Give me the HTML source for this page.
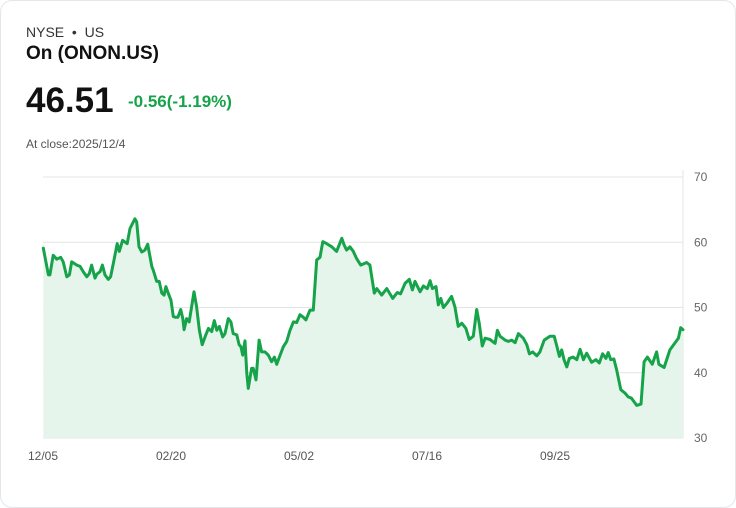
<!DOCTYPE html>
<html><head><meta charset="utf-8"><style>
body{margin:0;background:#fff;font-family:"Liberation Sans",sans-serif}
.card{position:absolute;left:0;top:0;width:734px;height:506px;border:1px solid #e3e6ea;border-radius:12px;background:#fff}
.t{position:absolute;white-space:nowrap}
</style></head><body>
<div class="card">
<div class="t" style="left:25px;top:23px;font-size:14px;color:#333">NYSE &nbsp;•&nbsp; US</div>
<div class="t" style="left:25px;top:42px;font-size:19px;font-weight:bold;color:#111">On (ONON.US)</div>
<div class="t" style="left:25px;top:80px;font-size:35px;font-weight:bold;color:#111">46.51</div>
<div class="t" style="left:127px;top:91px;font-size:17px;font-weight:bold;color:#16a34a">-0.56(-1.19%)</div>
<div class="t" style="left:25px;top:136px;font-size:12px;color:#555">At close:2025/12/4</div>
<svg id="chart" width="736" height="508" style="position:absolute;left:-1px;top:-1px"></svg>
</div>
<script>
const sessions=[0.1,2.1,2.7,4.0,5.4,6.9,7.9,9.3,10.3,11.2,13.2,14.5,15.7,17.1,18.1,19.0,20.3,21.0,22.3,23.2,24.2,25.5,26.4,27.5,29.0,29.8,31.1,32.9,34.0,35.9,36.6,37.5,38.6,39.8,40.9,42.5,43.1,44.4,45.4,46.4,47.3,48.0,48.9,50.0,50.9,51.8,52.7,53.8,54.6,55.1,56.1,57.1,59.0,60.0,61.1,62.2,63.6,64.6,65.9,66.9,67.9,68.9,70.2,71.1,72.4,73.4,74.3,75.7,76.6,77.3,78.0,78.9,79.6,80.2,81.5,82.1,83.2,84.4,85.4,86.7,88.0,89.3,90.4,91.3,92.6,93.9,95.2,96.5,97.8,99.1,100.4,101.7,102.7,104.3,105.6,106.9,108.2,109.3,110.8,112.8,114.7,116.7,117.6,118.6,119.9,121.2,122.5,124.1,126.4,
127.7,129.4,130.4,132.3,134.3,136.6,138.4,139.7,141.4,143.1,144.3,145.3,147.3,148.6,150.1,151.2,152.1,153.5,154.4,155.4,156.4,157.9,159.6,160.9,162.2,163.6,165.2,166.5,168.1,169.4,170.4,171.6,172.7,174.6,176.6,177.5,178.5,180.5,181.8,183.1,184.4,185.7,187.6,189.0,190.0,191.3,192.9,194.1,195.8,198.0,199.7,200.7,201.7,202.6,203.5,204.6,205.6,207.1,208.5,209.8,211.1,212.4,214.3,216.0,217.3,218.6,219.9,220.8,221.8,223.0,224.1,225.7,227.3,228.6,229.9,231.9,233.6,234.8,236.1,238.0,239.7,240.6,242.6,244.9,247.3,248.2,249.1,250.0];
const prices=[59.1,55.0,55.0,58.0,57.4,57.7,57.0,54.7,55.0,57.0,56.5,56.3,55.5,54.7,55.2,56.5,54.5,55.1,55.5,56.5,55.0,54.3,54.7,56.8,59.8,58.6,60.3,59.8,62.1,63.6,63.1,59.3,58.5,58.8,59.7,56.3,55.7,54.0,54.0,52.2,51.9,53.2,52.2,51.1,48.6,48.5,48.5,49.7,48.3,46.6,48.3,47.8,52.4,50.1,46.5,44.3,45.8,46.8,46.3,48.0,46.5,47.1,45.5,46.0,48.3,47.8,46.0,45.8,44.3,44.0,42.7,44.9,39.9,37.6,40.7,40.7,38.9,45.0,43.2,43.2,42.7,41.7,42.4,41.3,42.7,44.0,44.8,46.5,47.8,47.7,48.9,48.5,48.1,49.6,49.6,57.3,57.7,60.1,59.8,59.3,58.6,60.6,59.6,58.8,59.3,58.6,57.5,56.5,56.9,
56.5,52.2,52.9,51.9,52.9,51.4,52.3,52.1,53.7,54.3,52.7,54.0,52.4,53.3,52.9,54.1,52.9,53.2,50.4,51.4,50.0,50.7,51.7,50.1,47.1,47.6,46.8,45.1,45.6,49.7,47.6,44.1,45.3,45.1,44.5,46.5,45.6,45.0,44.8,45.0,44.6,46.0,45.3,44.3,42.9,43.2,42.6,43.2,45.0,45.6,45.6,44.1,42.5,43.5,42.0,40.9,42.2,42.4,42.0,43.6,42.0,43.0,41.6,42.0,41.5,42.9,42.2,43.1,42.0,42.1,40.4,37.4,36.9,36.3,36.1,35.0,35.2,41.7,42.4,41.3,43.2,41.3,40.8,43.5,44.8,45.3,46.9,46.6];
const yTicks=[30,40,50,60,70];
const xTickLabels=["12/05","02/20","05/02","07/16","09/25"];
const xTickSessions=[0,50,100,150,200];
const svg=document.getElementById('chart');
const NS='http://www.w3.org/2000/svg';
const X0=43,X1=683,Y0=438,Y1=177;
const xs=s=>X0+(X1-X0)*s/250;
const ys=v=>Y0-(Y0-Y1)*(v-30)/40;
function mk(tag,attrs){const e=document.createElementNS(NS,tag);for(const k in attrs)e.setAttribute(k,attrs[k]);svg.appendChild(e);return e;}
yTicks.forEach(v=>{
 const g=mk('line',{x1:X0,x2:X1,y1:ys(v),y2:ys(v),stroke:'#e4e4e4','stroke-width':1});
 
 
 const t=mk('text',{x:694,y:ys(v)+4,'font-size':12,fill:'#666','font-family':'Liberation Sans, sans-serif'});
 t.textContent=v;
 
 
});
const ax=mk('line',{x1:X1,x2:X1,y1:170,y2:Y0,stroke:'#e4e4e4'});


xTickLabels.forEach((l,i)=>{
 const t=mk('text',{x:xs(xTickSessions[i]),y:460,'font-size':12,fill:'#555','text-anchor':'middle','font-family':'Liberation Sans, sans-serif'});
 t.textContent=l;
 
 
});
let d='';
prices.forEach((p,i)=>{d+=(i?'L':'M')+xs(sessions[i]).toFixed(1)+','+ys(p).toFixed(1);});
const area=mk('path',{d:d+'L'+xs(sessions[sessions.length-1]).toFixed(1)+','+Y0+'L'+xs(sessions[0]).toFixed(1)+','+Y0+'Z',fill:'#e6f5eb'});


const line=mk('path',{d:d,fill:'none',stroke:'#16a34a','stroke-width':3,'stroke-linejoin':'round','stroke-linecap':'round'});


</script>
</body></html>
